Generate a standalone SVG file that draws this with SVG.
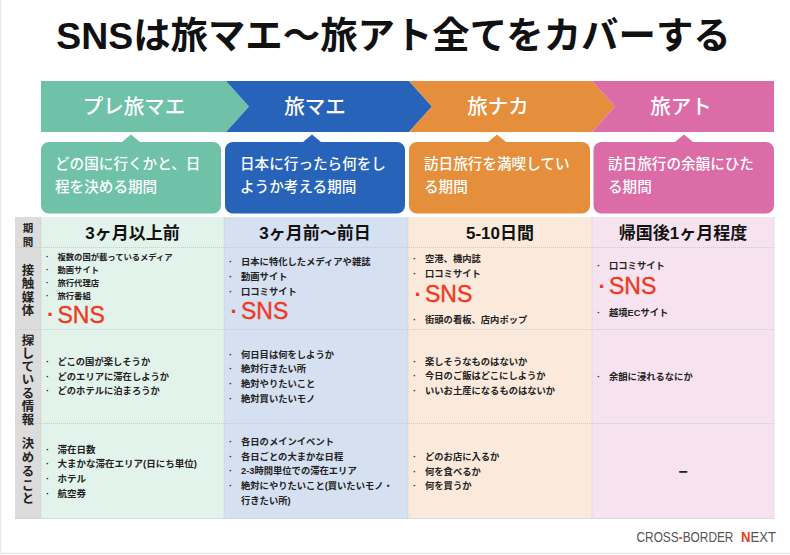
<svg xmlns="http://www.w3.org/2000/svg" width="790" height="555" viewBox="0 0 790 555">
<style>
text{font-family:"Liberation Sans","Noto Sans CJK JP",sans-serif;fill:#222}
.title{font-size:37.4px;font-weight:700;fill:#111;text-anchor:middle}
.arrow{font-size:20.5px;font-weight:500;fill:#fff;text-anchor:middle}
.bub{font-size:14.6px;font-weight:500;fill:#fff}
.head{font-size:17px;font-weight:700;fill:#111;text-anchor:middle}
.side{font-size:12.4px;font-weight:700;text-anchor:middle;fill:#222}
.sm{font-size:10.5px}
.s{font-size:9.3px;font-weight:700}
.xs{font-size:8.3px;font-weight:700}
.b{font-size:9.5px;font-weight:700}
.sns{font-size:23px;fill:#ee3a24;stroke:#ee3a24;stroke-width:.4}
.snsb{font-size:22px;font-weight:700;fill:#ee3a24}
.dash{font-size:16px;font-weight:700;text-anchor:middle}
.grid{stroke:#c6cccc;stroke-width:1;stroke-dasharray:1 1;fill:none}
.logo{font-size:15.5px;fill:#555}
.red{fill:#ee3a24;font-weight:700}
</style>
<rect width="790" height="555" fill="#fff"/>
<path d="M.5 0V553.500H790" fill="none" stroke="#e8e8e8" stroke-width="1.500"/>
<text class="title" x="393.500" y="49">SNSは旅マエ〜旅アト全てをカバーする</text>

<g id="phase-pre">
<path d="M41 81H226L249 106.500 226 132H41Z" fill="#6fc2a8"/>
<text class="arrow" x="134" y="113.500">プレ旅マエ</text>
<path d="M49 142H122L131 134.500 140 142H213a8 8 0 0 1 8 8V205.500a8 8 0 0 1-8 8H49a8 8 0 0 1-8-8V150a8 8 0 0 1 8-8Z" fill="#6fc2a8"/>
<text class="bub"><tspan x="55" y="169.200">どの国に行くかと、日</tspan><tspan x="55" y="192">程を決める期間</tspan></text>
</g>
<g id="phase-mae">
<path d="M226 81H409L432 106.500 409 132H226L249 106.500Z" fill="#2763b8"/>
<text class="arrow" x="315" y="113.500">旅マエ</text>
<path d="M233 142H303L312 134.500 321 142H397a8 8 0 0 1 8 8V205.500a8 8 0 0 1-8 8H233a8 8 0 0 1-8-8V150a8 8 0 0 1 8-8Z" fill="#2763b8"/>
<text class="bub"><tspan x="240" y="169.200">日本に行ったら何をし</tspan><tspan x="240" y="192">ようか考える期間</tspan></text>
</g>
<g id="phase-naka">
<path d="M409 81H592L615 106.500 592 132H409L432 106.500Z" fill="#e58f3c"/>
<text class="arrow" x="498" y="113.500">旅ナカ</text>
<path d="M417 142H488L497 134.500 506 142H582a8 8 0 0 1 8 8V205.500a8 8 0 0 1-8 8H417a8 8 0 0 1-8-8V150a8 8 0 0 1 8-8Z" fill="#e58f3c"/>
<text class="bub"><tspan x="424" y="169.200">訪日旅行を満喫してい</tspan><tspan x="424" y="192">る期間</tspan></text>
</g>
<g id="phase-ato">
<path d="M592 81H774V132H592L615 106.500Z" fill="#dc6ca8"/>
<text class="arrow" x="681" y="113.500">旅アト</text>
<path d="M601.500 142H675L684 134.500 693 142H766a8 8 0 0 1 8 8V205.500a8 8 0 0 1-8 8H601.500a8 8 0 0 1-8-8V150a8 8 0 0 1 8-8Z" fill="#dc6ca8"/>
<text class="bub"><tspan x="608" y="169.200">訪日旅行の余韻にひた</tspan><tspan x="608" y="192">る期間</tspan></text>
</g>

<g id="table-bg">
<rect x="15" y="217" width="26" height="302" fill="#dcdcdc"/>
<rect x="41" y="217" width="183" height="302" fill="#e2f3ec"/>
<rect x="224" y="217" width="184" height="302" fill="#d5e0f1"/>
<rect x="408" y="217" width="184" height="302" fill="#fbeadc"/>
<rect x="592" y="217" width="182" height="302" fill="#f7e3f0"/>
<path class="grid" d="M15 247.500H774M15 329.500H774M15 423.500H774M15 518.500H774M41 217V519M224 217V519M408 217V519M592 217V519M774 217V519"/>
</g>

<g id="row-labels">
<text class="side sm" x="28" y="232">期</text><text class="side sm" x="28" y="246">間</text>
<text class="side" x="28" y="274.500">接</text><text class="side" x="28" y="288">触</text><text class="side" x="28" y="301.500">媒</text><text class="side" x="28" y="315">体</text>
<text class="side" x="28" y="344.500">探</text><text class="side" x="28" y="357.800">し</text><text class="side" x="28" y="371.100">て</text><text class="side" x="28" y="384.400">い</text><text class="side" x="28" y="397.700">る</text><text class="side" x="28" y="411">情</text><text class="side" x="28" y="424.300">報</text>
<text class="side" x="28" y="447.500">決</text><text class="side" x="28" y="462">め</text><text class="side" x="28" y="476">る</text><text class="side" x="28" y="490">こ</text><text class="side" x="28" y="503">と</text>
</g>

<g id="col-pre">
<text class="head" x="132.500" y="238.700">3ヶ月以上前</text>
<text class="xs" x="46" y="260.300">·</text><text class="xs" x="57.500" y="260.300">複数の国が載っているメディア</text>
<text class="xs" x="46" y="273">·</text><text class="xs" x="57.500" y="273">動画サイト</text>
<text class="xs" x="46" y="286">·</text><text class="xs" x="57.500" y="286">旅行代理店</text>
<text class="xs" x="46" y="298.500">·</text><text class="xs" x="57.500" y="298.500">旅行番組</text>
<text class="snsb" x="47" y="322">·</text><text class="sns" x="57.500" y="322.700">SNS</text>
<text class="s" x="46" y="365.300">·</text><text class="s" x="57.500" y="365.300">どこの国が楽しそうか</text>
<text class="s" x="46" y="379.800">·</text><text class="s" x="57.500" y="379.800">どのエリアに滞在しようか</text>
<text class="s" x="46" y="394.300">·</text><text class="s" x="57.500" y="394.300">どのホテルに泊まろうか</text>
<text class="b" x="46" y="452.600">·</text><text class="b" x="57.500" y="452.600">滞在日数</text>
<text class="b" x="46" y="467">·</text><text class="b" x="57.500" y="467">大まかな滞在エリア(日にち単位)</text>
<text class="b" x="46" y="481.800">·</text><text class="b" x="57.500" y="481.800">ホテル</text>
<text class="b" x="46" y="497">·</text><text class="b" x="57.500" y="497">航空券</text>
</g>

<g id="col-mae">
<text class="head" x="315" y="238.700">3ヶ月前〜前日</text>
<text class="s" x="229" y="265">·</text><text class="s" x="241" y="265">日本に特化したメディアや雑誌</text>
<text class="s" x="229" y="279.800">·</text><text class="s" x="241" y="279.800">動画サイト</text>
<text class="s" x="229" y="294.800">·</text><text class="s" x="241" y="294.800">口コミサイト</text>
<text class="snsb" x="230.500" y="319">·</text><text class="sns" x="241" y="319.300">SNS</text>
<text class="s" x="229" y="357.800">·</text><text class="s" x="241" y="357.800">何日目は何をしようか</text>
<text class="s" x="229" y="372">·</text><text class="s" x="241" y="372">絶対行きたい所</text>
<text class="s" x="229" y="387.300">·</text><text class="s" x="241" y="387.300">絶対やりたいこと</text>
<text class="s" x="229" y="401.800">·</text><text class="s" x="241" y="401.800">絶対買いたいモノ</text>
<text class="s" x="229" y="445">·</text><text class="s" x="241" y="445">各日のメインイベント</text>
<text class="s" x="229" y="459.600">·</text><text class="s" x="241" y="459.600">各日ごとの大まかな日程</text>
<text class="s" x="229" y="474.300">·</text><text class="s" x="241" y="474.300">2-3時間単位での滞在エリア</text>
<text class="s" x="229" y="489">·</text><text class="s" x="241" y="489">絶対にやりたいこと(買いたいモノ・</text>
<text class="s" x="241" y="503.800">行きたい所)</text>
</g>

<g id="col-naka">
<text class="head" x="500" y="238.700">5-10日間</text>
<text class="s" x="413" y="262.300">·</text><text class="s" x="425" y="262.300">空港、機内誌</text>
<text class="s" x="413" y="276.800">·</text><text class="s" x="425" y="276.800">口コミサイト</text>
<text class="snsb" x="414.500" y="301.500">·</text><text class="sns" x="425" y="301.700">SNS</text>
<text class="s" x="413" y="323">·</text><text class="s" x="425" y="323">街頭の看板、店内ポップ</text>
<text class="s" x="413" y="364.800">·</text><text class="s" x="425" y="364.800">楽しそうなものはないか</text>
<text class="s" x="413" y="379.300">·</text><text class="s" x="425" y="379.300">今日のご飯はどこにしようか</text>
<text class="s" x="413" y="394.300">·</text><text class="s" x="425" y="394.300">いいお土産になるものはないか</text>
<text class="s" x="413" y="460">·</text><text class="s" x="425" y="460">どのお店に入るか</text>
<text class="s" x="413" y="474.600">·</text><text class="s" x="425" y="474.600">何を食べるか</text>
<text class="s" x="413" y="489.300">·</text><text class="s" x="425" y="489.300">何を買うか</text>
</g>

<g id="col-ato">
<text class="head" x="683" y="238.700">帰国後1ヶ月程度</text>
<text class="s" x="597" y="269.300">·</text><text class="s" x="609" y="269.300">口コミサイト</text>
<text class="snsb" x="598.500" y="294">·</text><text class="sns" x="609" y="294.300">SNS</text>
<text class="s" x="597" y="315.800">·</text><text class="s" x="609" y="315.800">越境ECサイト</text>
<text class="s" x="597" y="379.800">·</text><text class="s" x="609" y="379.800">余韻に浸れるなにか</text>
<text class="dash" x="683" y="476.500">−</text>
</g>

<g id="logo">
<text class="logo" transform="translate(636.500 541.500) scale(.766 1)">CROSS<tspan class="red">-</tspan>BORDER</text>
<text class="logo" transform="translate(741 541.500) scale(.847 1)"><tspan class="red">N</tspan>EXT</text>
</g>
</svg>
